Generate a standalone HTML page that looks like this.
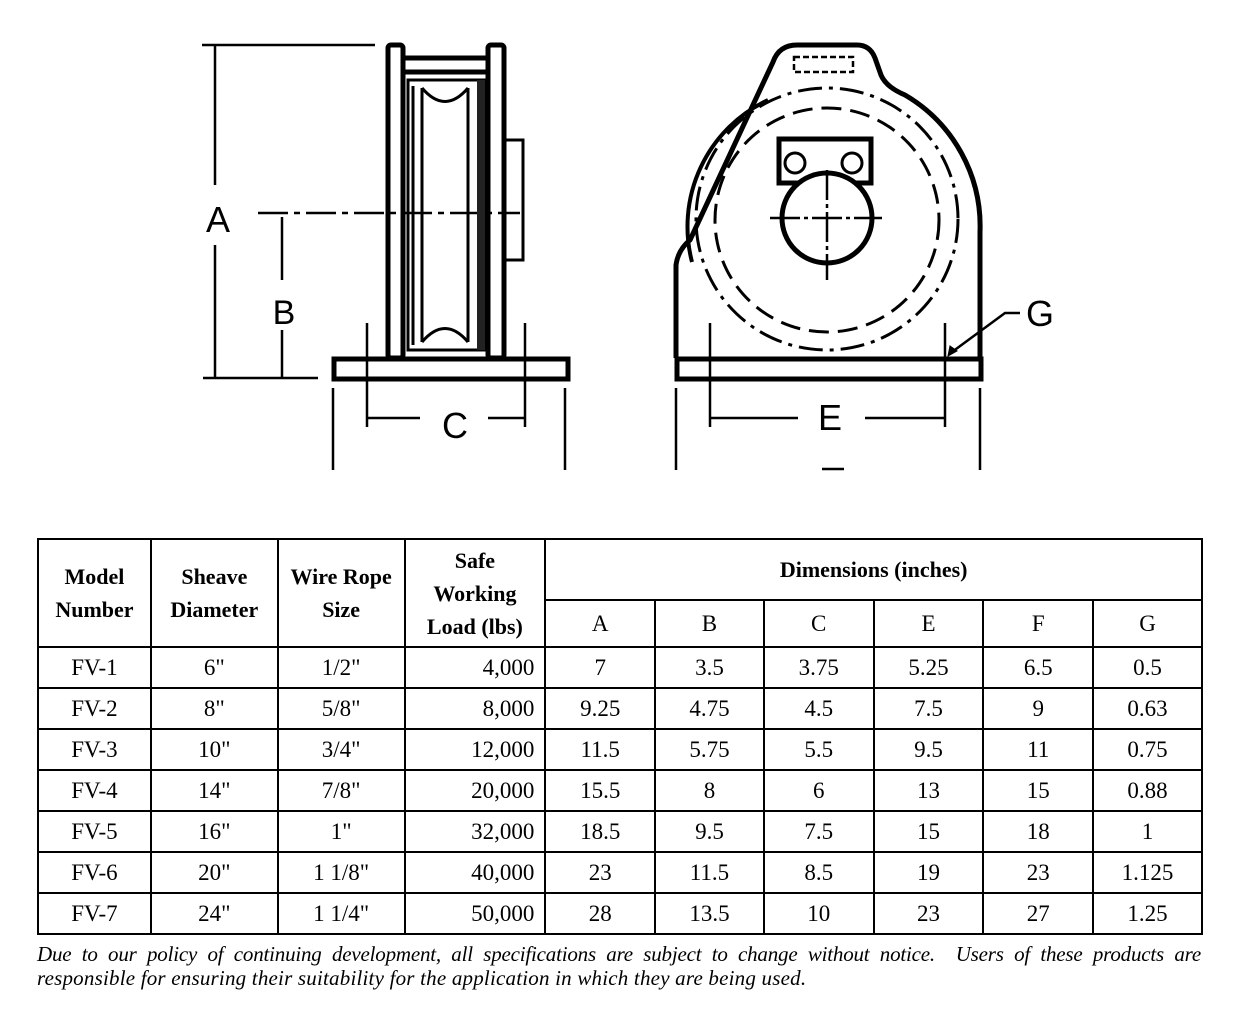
<!DOCTYPE html>
<html><head><style>
body{margin:0;background:#fff;width:1245px;height:1017px;position:relative;overflow:hidden;font-family:"Liberation Serif",serif;}
svg{position:absolute;left:0;top:0}
table{position:absolute;left:37px;top:538px;border-collapse:collapse;width:1166px;}
td{border:2px solid #000;text-align:center;font-size:23px;height:39px;padding:0;}
.h td{font-weight:bold;font-size:22px;line-height:33px;}
.r{text-align:right;padding-right:10px}
.note{position:absolute;left:37px;width:1164px;font-style:italic;font-size:21px;line-height:24px;white-space:nowrap;}
.l1{top:942px;text-align:justify;text-align-last:justify;letter-spacing:-0.2px;}
.l2{top:966px;letter-spacing:0.2px;}
</style></head><body>
<svg width="1245" height="530" viewBox="0 0 1245 530" fill="none" stroke="#000" font-family="Liberation Sans, sans-serif">
<g stroke-width="2.5">
<line x1="202" y1="45" x2="375" y2="45"/>
<line x1="215" y1="45" x2="215" y2="185"/><line x1="215" y1="245" x2="215" y2="378"/>
<line x1="203" y1="378" x2="318" y2="378"/>
<line x1="258" y1="213" x2="520" y2="213" stroke-dasharray="30,6,6,6"/>
<line x1="282" y1="217" x2="282" y2="280"/><line x1="282" y1="330" x2="282" y2="378"/>
<line x1="367" y1="323" x2="367" y2="427"/><line x1="525" y1="323" x2="525" y2="427"/>
<line x1="367" y1="418" x2="420" y2="418"/><line x1="488" y1="418" x2="525" y2="418"/>
<line x1="333" y1="388" x2="333" y2="470"/><line x1="565" y1="388" x2="565" y2="470"/>
</g>
<g stroke-width="5">
<rect x="388" y="45" width="15" height="313" rx="3"/>
<rect x="488" y="45" width="16" height="313" rx="3"/>
<line x1="403" y1="58" x2="488" y2="58"/><line x1="403" y1="72" x2="488" y2="72"/>
<rect x="334" y="359" width="234" height="20"/>
</g>
<g stroke-width="3">
<rect x="408" y="80" width="77" height="270"/>
<path d="M413,86 L413,345 M480,86 L480,345"/>
<path d="M422,88 Q445,115 468,88 M422,342 Q445,315 468,342"/>
<line x1="422" y1="88" x2="422" y2="342"/><line x1="468" y1="88" x2="468" y2="342"/>
<rect x="505" y="140" width="18" height="120"/>
</g>
<rect x="477" y="80" width="8" height="270" fill="#222" stroke="none"/>
<text x="218" y="232" font-size="36" fill="#000" stroke="none" text-anchor="middle">A</text>
<text x="284" y="324" font-size="34" fill="#000" stroke="none" text-anchor="middle">B</text>
<text x="455" y="438" font-size="36" fill="#000" stroke="none" text-anchor="middle">C</text>
<path d="M676,358 L676,265 Q678,250 690,240 L773,62 Q779,45 797,45 L857,45 Q870,45 875,58 L881,75 Q886,87 905,95 A152,152 0 0 1 980,232 L980,358" stroke-width="5"/>
<path d="M692,262 A140,140 0 0 1 768,100" stroke-width="4"/>
<rect x="677" y="359" width="304" height="20" stroke-width="5"/>
<circle cx="827" cy="219" r="131" stroke-width="3" stroke-dasharray="24,7,4,7"/>
<circle cx="827" cy="220" r="112" stroke-width="3" stroke-dasharray="20,9"/>
<rect x="794" y="57" width="59" height="15" stroke-width="2.5" stroke-dasharray="6,3"/>
<rect x="779" y="139" width="92" height="44" stroke-width="5" fill="#fff"/>
<circle cx="795" cy="163" r="10" stroke-width="3"/><circle cx="852" cy="163" r="10" stroke-width="3"/>
<circle cx="827" cy="218" r="45" stroke-width="5" fill="#fff"/>
<g stroke-width="2.5" stroke-dasharray="30,4,4,4">
<line x1="770" y1="218" x2="882" y2="218"/><line x1="827" y1="170" x2="827" y2="280"/>
</g>
<g stroke-width="2.5">
<line x1="710" y1="323" x2="710" y2="427"/><line x1="945" y1="323" x2="945" y2="427"/>
<line x1="710" y1="418" x2="798" y2="418"/><line x1="865" y1="418" x2="945" y2="418"/>
<line x1="676" y1="388" x2="676" y2="470"/><line x1="980" y1="388" x2="980" y2="470"/>
<line x1="822" y1="469" x2="844" y2="469"/>
<path d="M1020,313 L1005,313 L952,352"/>
</g>
<path d="M948,356 L950,346 L957,351 Z" fill="#000"/>
<text x="830" y="430" font-size="36" fill="#000" stroke="none" text-anchor="middle">E</text>
<text x="1040" y="326" font-size="36" fill="#000" stroke="none" text-anchor="middle">G</text>
</svg>
<table>
<colgroup><col style="width:113px"><col style="width:127px"><col style="width:127px"><col style="width:141px"><col style="width:110px"><col style="width:109px"><col style="width:110px"><col style="width:110px"><col style="width:110px"><col style="width:109px"></colgroup>
<tr class="h"><td rowspan="2">Model<br>Number</td><td rowspan="2">Sheave<br>Diameter</td><td rowspan="2">Wire Rope<br>Size</td><td rowspan="2">Safe<br>Working<br>Load (lbs)</td><td colspan="6" style="height:59px">Dimensions (inches)</td></tr>
<tr style="height:47px"><td>A</td><td>B</td><td>C</td><td>E</td><td>F</td><td>G</td></tr>
<tr><td>FV-1</td><td>6"</td><td>1/2"</td><td class="r">4,000</td><td>7</td><td>3.5</td><td>3.75</td><td>5.25</td><td>6.5</td><td>0.5</td></tr>
<tr><td>FV-2</td><td>8"</td><td>5/8"</td><td class="r">8,000</td><td>9.25</td><td>4.75</td><td>4.5</td><td>7.5</td><td>9</td><td>0.63</td></tr>
<tr><td>FV-3</td><td>10"</td><td>3/4"</td><td class="r">12,000</td><td>11.5</td><td>5.75</td><td>5.5</td><td>9.5</td><td>11</td><td>0.75</td></tr>
<tr><td>FV-4</td><td>14"</td><td>7/8"</td><td class="r">20,000</td><td>15.5</td><td>8</td><td>6</td><td>13</td><td>15</td><td>0.88</td></tr>
<tr><td>FV-5</td><td>16"</td><td>1"</td><td class="r">32,000</td><td>18.5</td><td>9.5</td><td>7.5</td><td>15</td><td>18</td><td>1</td></tr>
<tr><td>FV-6</td><td>20"</td><td>1 1/8"</td><td class="r">40,000</td><td>23</td><td>11.5</td><td>8.5</td><td>19</td><td>23</td><td>1.125</td></tr>
<tr><td>FV-7</td><td>24"</td><td>1 1/4"</td><td class="r">50,000</td><td>28</td><td>13.5</td><td>10</td><td>23</td><td>27</td><td>1.25</td></tr>
</table>
<div class="note l1">Due to our policy of continuing development, all specifications are subject to change without notice.&nbsp; Users of these products are</div>
<div class="note l2">responsible for ensuring their suitability for the application in which they are being used.</div>
</body></html>
